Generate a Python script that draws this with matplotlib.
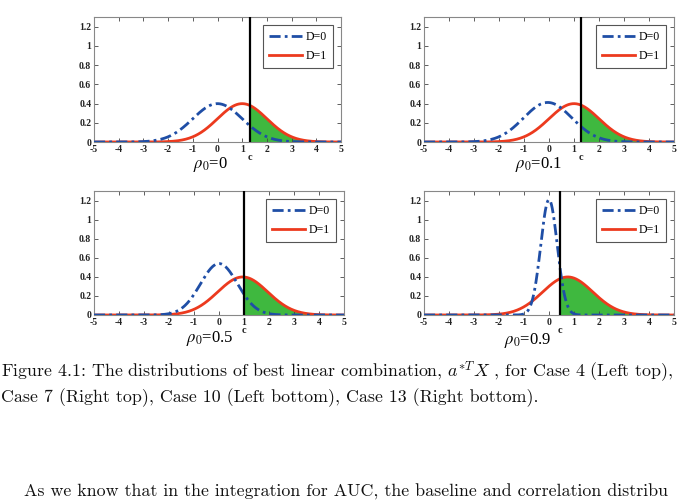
import numpy as np
import matplotlib
matplotlib.use("Agg")
import matplotlib.pyplot as plt

# ---- data ----
rho_labels = ["0", "0.1", "0.5", "0.9"]
d0_mean = [0.0, -0.05, 0.0, 0.0]
d0_sd = [1.0, 0.97, 0.74, 0.33]
d1_mean = [1.0, 1.0, 0.95, 0.75]
d1_sd = [1.0, 1.0, 1.0, 1.0]
cutoffs = [1.33, 1.28, 1.0, 0.42]
x_ticks = [-5, -4, -3, -2, -1, 0, 1, 2, 3, 4, 5]
y_ticks = [0, 0.2, 0.4, 0.6, 0.8, 1.0, 1.2]
y_tick_labels = ["0", "0.2", "0.4", "0.6", "0.8", "1", "1.2"]
legend_labels = ["D=0", "D=1"]

caption1 = "Figure 4.1: The distributions of best linear combination, $a^{*T}X$ , for Case 4 (Left top),"
caption2 = "Case 7 (Right top), Case 10 (Left bottom), Case 13 (Right bottom)."
body = "As we know that in the integration for AUC, the baseline and correlation distribu"

BLUE = "#1f4ea6"
RED = "#ec3a1e"
GREEN = "#3fb83f"

def normpdf(x, m, s):
    return np.exp(-0.5 * ((x - m) / s) ** 2) / (s * np.sqrt(2 * np.pi))

W, H = 682, 500
fig = plt.figure(figsize=(W / 100, H / 100), dpi=100)

# axes rectangles in pixels: left, top, right, bottom
rects = [(94, 17, 341, 142), (424, 17, 674, 142),
         (94, 191, 344, 315), (424, 191, 674, 315)]
label_pos = [(210, 164), (538, 164), (210, 339), (528, 340)]

serif = ["Liberation Serif", "DejaVu Serif"]
x = np.linspace(-5, 5, 1001)

for i in range(4):
    l, t, r, b = rects[i]
    ax = fig.add_axes([l / W, 1 - b / H, (r - l) / W, (b - t) / H])
    y0 = normpdf(x, d0_mean[i], d0_sd[i])
    y1 = normpdf(x, d1_mean[i], d1_sd[i])
    c = cutoffs[i]
    mask = x >= c
    ax.fill_between(x[mask], 0, y1[mask], color=GREEN, lw=0, zorder=1)
    ax.plot(x, y0, color=BLUE, lw=2.0, ls=(0, (4, 1.5, 1, 1.5)), label=legend_labels[0], zorder=3)
    ax.plot(x, y1, color=RED, lw=2.0, label=legend_labels[1], zorder=2)
    ax.axvline(c, color="black", lw=1.6, zorder=4)
    ax.set_xlim(-5, 5)
    ax.set_ylim(0, 1.3)
    ax.set_xticks(x_ticks)
    ax.set_xticklabels([str(v) for v in x_ticks])
    ax.set_yticks(y_ticks)
    ax.set_yticklabels(y_tick_labels)
    ax.tick_params(direction="in", length=3, width=0.6, top=True, right=True,
                   labelsize=7, pad=2, colors="#444444", labelcolor="#222222")
    for lab in ax.get_xticklabels() + ax.get_yticklabels():
        lab.set_fontfamily(serif)
        lab.set_fontweight("bold")
    for sp in ax.spines.values():
        sp.set_color("#888888")
        sp.set_linewidth(0.8)
    leg = ax.legend(loc="upper right", prop={"family": serif, "size": 8.5},
                    handlelength=2.8, borderpad=0.5, labelspacing=0.6,
                    handletextpad=0.3, fancybox=False, framealpha=1,
                    edgecolor="#555555", borderaxespad=0.7)
    leg.get_frame().set_linewidth(0.8)
    ax.text(c, -0.085, "c", transform=ax.get_xaxis_transform(), ha="center",
            va="top", fontsize=7.5, fontfamily=serif, fontweight="bold", color="#222222")
    lx, ly = label_pos[i]
    fig.text(lx / W, 1 - ly / H, r"$\rho_0$=" + rho_labels[i], ha="center", va="center",
             fontsize=12, fontfamily=serif, math_fontfamily="stix")

fig.text(0.001, 1 - 372 / H, caption1, ha="left", va="center", fontsize=12.9,
         fontfamily="cmr10", math_fontfamily="cm", color="#111111")
fig.text(0.001, 1 - 398 / H, caption2, ha="left", va="center", fontsize=12.9,
         fontfamily="cmr10", color="#111111")
fig.text(24 / W, 1 - 497 / H, body, ha="left", va="baseline", fontsize=12.9,
         fontfamily="cmr10", color="#111111")

fig.savefig("out.png", dpi=100)
